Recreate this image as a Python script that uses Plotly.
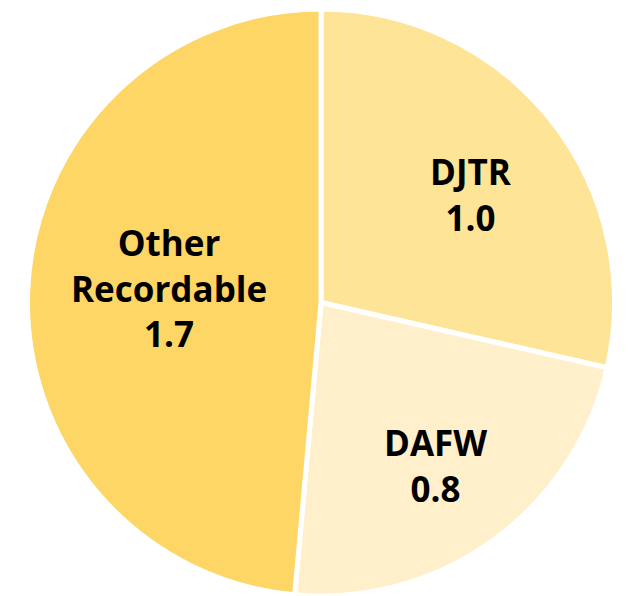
import math
import plotly.graph_objects as go

labels = ["DJTR", "DAFW", "Other<br>Recordable"]
values = [1.0, 0.8, 1.7]
colors = ["#FEE496", "#FFF0CB", "#FDD666"]
label_radius = [0.63, 0.68, 0.52]   # fraction of radius where each label sits
label_angle_shift = [2.7, 1.0, 3.0]  # degrees, clockwise

fig = go.Figure(go.Pie(
    labels=labels,
    values=values,
    sort=False,
    direction="clockwise",
    rotation=0,
    marker=dict(colors=colors, line=dict(color="white", width=5)),
    textinfo="none",
    showlegend=False,
    hoverinfo="label+value",
    domain=dict(x=[0, 1], y=[0, 1]),
))

total = sum(values)
start = 0.0
for lab, val, f, sh in zip(labels, values, label_radius, label_angle_shift):
    span = 360.0 * val / total
    mid = math.radians(start + span / 2 + sh)
    start += span
    fig.add_annotation(
        x=0.5 + 0.5 * f * math.sin(mid),
        y=0.5 + 0.5 * f * math.cos(mid),
        xref="paper", yref="paper",
        xanchor="center", yanchor="middle",
        text="<br>".join(f"<b>{p}</b>" for p in (lab.split("<br>") + [f"{val:.1f}"])),
        showarrow=False,
        font=dict(family="Open Sans", size=35, color="black"),
    )

fig.update_layout(
    width=612,
    height=588,
    margin=dict(l=19, r=5, t=1, b=0),
    paper_bgcolor="white",
    plot_bgcolor="white",
)

fig.write_html("out.html")
